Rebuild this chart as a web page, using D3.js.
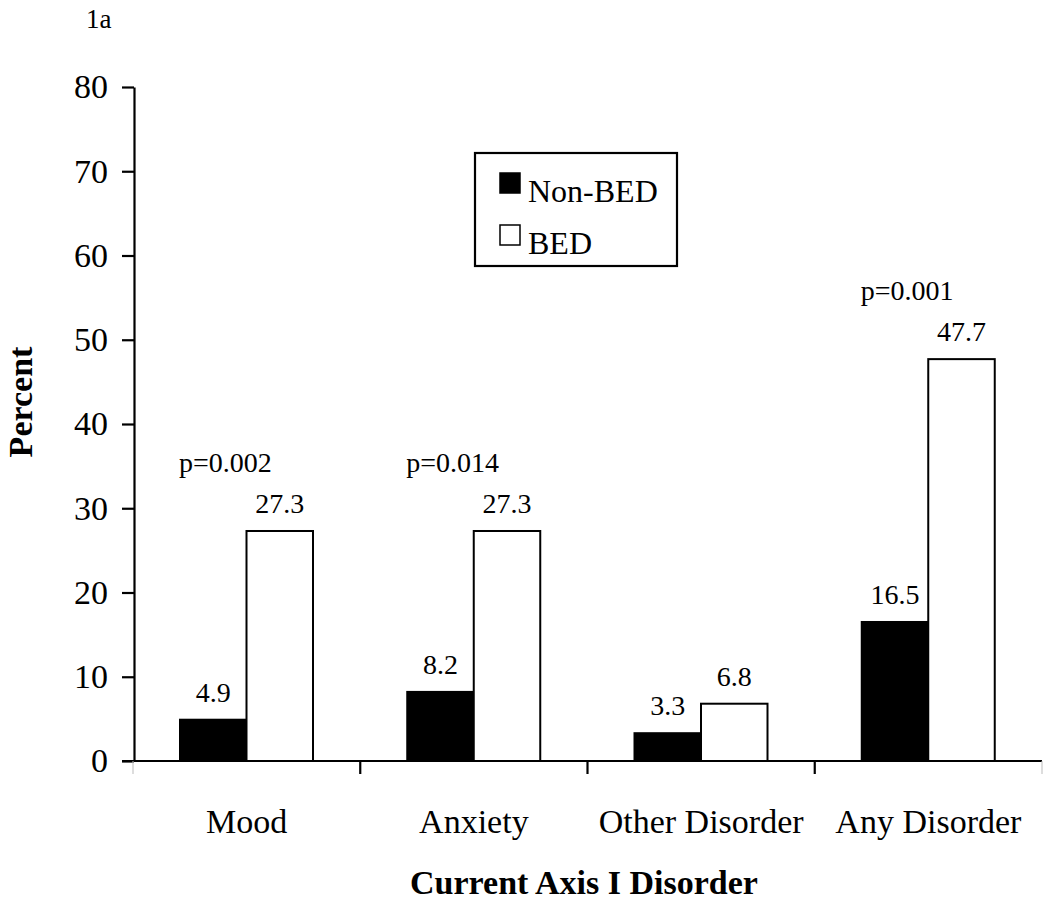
<!DOCTYPE html>
<html>
<head>
<meta charset="utf-8">
<script src="https://cdn.jsdelivr.net/npm/d3@7"></script>
<style>
  html, body { margin: 0; padding: 0; background: #fff; }
  svg { display: block; font-family: "Liberation Serif", "Times New Roman", serif; }
</style>
</head>
<body>
<svg id="chart" width="1050" height="902"></svg>
<script>
const categories = ["Mood", "Anxiety", "Other Disorder", "Any Disorder"];
const seriesNames = ["Non-BED", "BED"];
const nonBED = [4.9, 8.2, 3.3, 16.5];
const bed = [27.3, 27.3, 6.8, 47.7];
const pValues = ["p=0.002", "p=0.014", "", "p=0.001"];
const yTicks = [0, 10, 20, 30, 40, 50, 60, 70, 80];
const panelLabel = "1a";
const yTitle = "Percent";
const xTitle = "Current Axis I Disorder";

(function () {
const svg = d3.select("#chart");
const mLeft = 134, mRight = 1042, mTop = 87, mBottom = 761;

const y = d3.scaleLinear().domain([0, 80]).range([mBottom, mTop]);
const x0 = d3.scaleBand().domain(categories).range([mLeft - 1, mRight]).paddingInner(0).paddingOuter(0);
const x1 = d3.scaleBand().domain(seriesNames).range([47, 180]).padding(0);
const fills = { "Non-BED": "#000", "BED": "#fff" };

const rows = categories.map((c, i) => ({ cat: c, vals: [nonBED[i], bed[i]], p: pValues[i] }));

// bars
const g = svg.append("g");
rows.forEach(r => {
  seriesNames.forEach((s, j) => {
    g.append("rect")
      .attr("x", x0(r.cat) + x1(s))
      .attr("y", y(r.vals[j]))
      .attr("width", x1.bandwidth())
      .attr("height", y(0) - y(r.vals[j]))
      .attr("fill", fills[s])
      .attr("stroke", "#000")
      .attr("stroke-width", 2);
    g.append("text")
      .attr("x", x0(r.cat) + x1(s) + x1.bandwidth() / 2)
      .attr("y", y(r.vals[j]) - 18)
      .attr("text-anchor", "middle")
      .attr("font-size", 28)
      .text(r.vals[j].toFixed(1));
  });
  if (r.p) {
    g.append("text")
      .attr("x", x0(r.cat) + x1("Non-BED") - 1)
      .attr("y", y(d3.max(r.vals)) - 18 - 41)
      .attr("font-size", 28)
      .text(r.p);
  }
});

// y axis
const yAxis = d3.axisLeft(y).tickValues(yTicks).tickSize(12).tickPadding(14).tickSizeOuter(0);
const ya = svg.append("g").attr("transform", `translate(${mLeft},0)`).call(yAxis);
ya.select(".domain").attr("stroke", "#000").attr("stroke-width", 2.2);
ya.selectAll(".tick line").attr("stroke", "#000").attr("stroke-width", 2.2);
ya.selectAll(".tick text").attr("font-size", 34).attr("fill", "#000")
  .attr("font-family", "Liberation Serif, Times New Roman, serif");

// x axis
const boundaries = categories.map(c => x0(c)).concat([x0.range()[1]]);
const xa = svg.append("g");
xa.append("line").attr("x1", mLeft - 12).attr("x2", mRight).attr("y1", mBottom).attr("y2", mBottom)
  .attr("stroke", "#000").attr("stroke-width", 2.2);
boundaries.forEach((b, i) => {
  const edge = i === 0 || i === boundaries.length - 1;
  xa.append("line").attr("x1", b).attr("x2", b).attr("y1", mBottom).attr("y2", mBottom + 13)
    .attr("stroke", edge ? "#bbb" : "#000").attr("stroke-width", edge ? 1 : 2.2);
});
categories.forEach(c => {
  xa.append("text")
    .attr("x", x0(c) + x0.bandwidth() / 2)
    .attr("y", 833)
    .attr("text-anchor", "middle")
    .attr("font-size", 34)
    .text(c);
});

// titles
svg.append("text").attr("x", 584).attr("y", 894).attr("text-anchor", "middle")
  .attr("font-size", 34).attr("font-weight", "bold").text(xTitle);
svg.append("text").attr("transform", "translate(32,402) rotate(-90)").attr("text-anchor", "middle")
  .attr("font-size", 34).attr("font-weight", "bold").text(yTitle);
svg.append("text").attr("x", 86).attr("y", 28).attr("font-size", 27).text(panelLabel);

// legend
const lg = svg.append("g");
lg.append("rect").attr("x", 475).attr("y", 153).attr("width", 202).attr("height", 113)
  .attr("fill", "#fff").attr("stroke", "#000").attr("stroke-width", 2.2);
seriesNames.forEach((s, i) => {
  const yy = 173 + i * 52;
  lg.append("rect").attr("x", 500).attr("y", yy).attr("width", 20).attr("height", 20)
    .attr("fill", fills[s]).attr("stroke", "#000").attr("stroke-width", 1.5);
  lg.append("text").attr("x", 528).attr("y", yy + 29).attr("font-size", 32).text(s);
});
})();
</script>
</body>
</html>
